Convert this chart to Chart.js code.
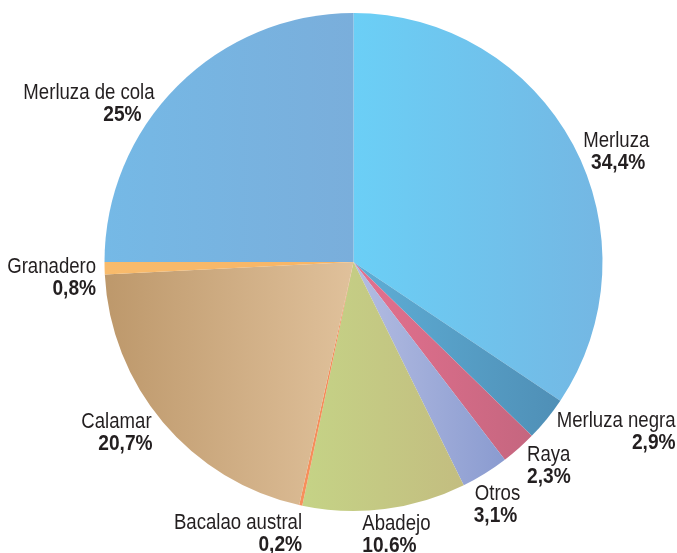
<!DOCTYPE html>
<html>
<head>
<meta charset="utf-8">
<script src="https://cdn.jsdelivr.net/npm/chart.js@4"></script>
<style>
    html, body { margin: 0; padding: 0; background: #fff; }
    canvas { display: block; }
</style>
</head>
<body>
<canvas id="capturas" width="677" height="553"></canvas>
<script>
// Datos del gráfico (participación por especie, %)
const categories = ['Merluza', 'Merluza negra', 'Raya', 'Otros', 'Abadejo',
                    'Bacalao austral', 'Calamar', 'Granadero', 'Merluza de cola'];
const shares = [34.4, 2.9, 2.3, 3.1, 10.6, 0.2, 20.7, 0.8, 25];
const shareLabels = ['34,4%', '2,9%', '2,3%', '3,1%', '10.6%', '0,2%', '20,7%', '0,8%', '25%'];

// Colores: degradado horizontal de cada porción (izquierda -> derecha)
const colorsFrom = ['#6bcff6', '#5eaed6', '#e4718f', '#b4bde2', '#c5d386', '#f7905c', '#bd986b', '#f8bb6c', '#75b9e6'];
const colorsTo   = ['#74b7e3', '#4f8fb6', '#c5667f', '#8a9bd0', '#c3bd80', '#f08858', '#e0c19b', '#f8b464', '#7aaedb'];

// Ubicación de las etiquetas respecto al borde de cada porción
const labelAlign = ['center', 'right', 'left', 'center', 'left', 'right', 'right', 'right', 'right'];
const labelDx    = [32, 119, 0, 6, -24, 4, -2, 4, -14];
const labelDy    = [2, -6, -3, 10, 2, 5, -9, -2, 16];
const pctDx      = [2, 0, 0, -2, 0, 0, 1, 0, -13];

const total = shares.reduce((a, b) => a + b, 0);

function sliceGradient(context) {
    const chart = context.chart;
    const area = chart.chartArea;
    const i = context.dataIndex;
    if (!area) return colorsFrom[i];
    const cx = (area.left + area.right) / 2;
    const r = Math.min(area.right - area.left, area.bottom - area.top) / 2;

    let before = 0;
    for (let k = 0; k < i; k++) before += shares[k];
    const a0 = -Math.PI / 2 + before / total * 2 * Math.PI;
    const a1 = a0 + shares[i] / total * 2 * Math.PI;

    // extensión horizontal de la porción
    const xs = [cx, cx + r * Math.cos(a0), cx + r * Math.cos(a1)];
    for (let a = -Math.PI * 2; a <= Math.PI * 2; a += Math.PI) {
        if (a > a0 && a < a1) xs.push(cx + r * Math.cos(a));
    }
    const minX = Math.min(...xs);
    const maxX = Math.max(...xs);
    if (maxX - minX < 1) return colorsFrom[i];

    const g = chart.ctx.createLinearGradient(minX, 0, maxX, 0);
    g.addColorStop(0, colorsFrom[i]);
    g.addColorStop(1, colorsTo[i]);
    return g;
}

// texto angosto: Liberation Sans comprimida horizontalmente
function narrowText(ctx, text, x, y, align, font, sx) {
    ctx.save();
    ctx.translate(x, y);
    ctx.scale(sx, 1);
    ctx.font = font;
    ctx.textAlign = align;
    ctx.fillText(text, 0, 0);
    ctx.restore();
}

const sliceLabels = {
    id: 'sliceLabels',
    afterDraw(chart) {
        const ctx = chart.ctx;
        const meta = chart.getDatasetMeta(0);
        ctx.save();
        ctx.fillStyle = '#231f20';
        ctx.textBaseline = 'middle';
        meta.data.forEach((arc, i) => {
            const p = arc.getProps(['x', 'y', 'startAngle', 'endAngle', 'outerRadius'], true);
            const mid = (p.startAngle + p.endAngle) / 2;
            const rr = p.outerRadius + 12.5;
            const x = p.x + rr * Math.cos(mid) + labelDx[i];
            const y = p.y + rr * Math.sin(mid) + labelDy[i];
            narrowText(ctx, categories[i], x, y, labelAlign[i],
                '22px "Liberation Sans", Arial, sans-serif', 0.845);
            narrowText(ctx, shareLabels[i], x + pctDx[i], y + 22, labelAlign[i],
                'bold 22px "Liberation Sans", Arial, sans-serif', 0.87);
        });
        ctx.restore();
    }
};

new Chart(document.getElementById('capturas'), {
    type: 'pie',
    data: {
        labels: categories,
        datasets: [{
            data: shares,
            backgroundColor: sliceGradient,
            borderWidth: 0,
            hoverOffset: 0
        }]
    },
    options: {
        responsive: false,
        animation: false,
        layout: { padding: { top: 13, bottom: 42, left: 30, right: 0 } },
        plugins: {
            legend: { display: false },
            tooltip: { enabled: false }
        }
    },
    plugins: [sliceLabels]
});
</script>
</body>
</html>
